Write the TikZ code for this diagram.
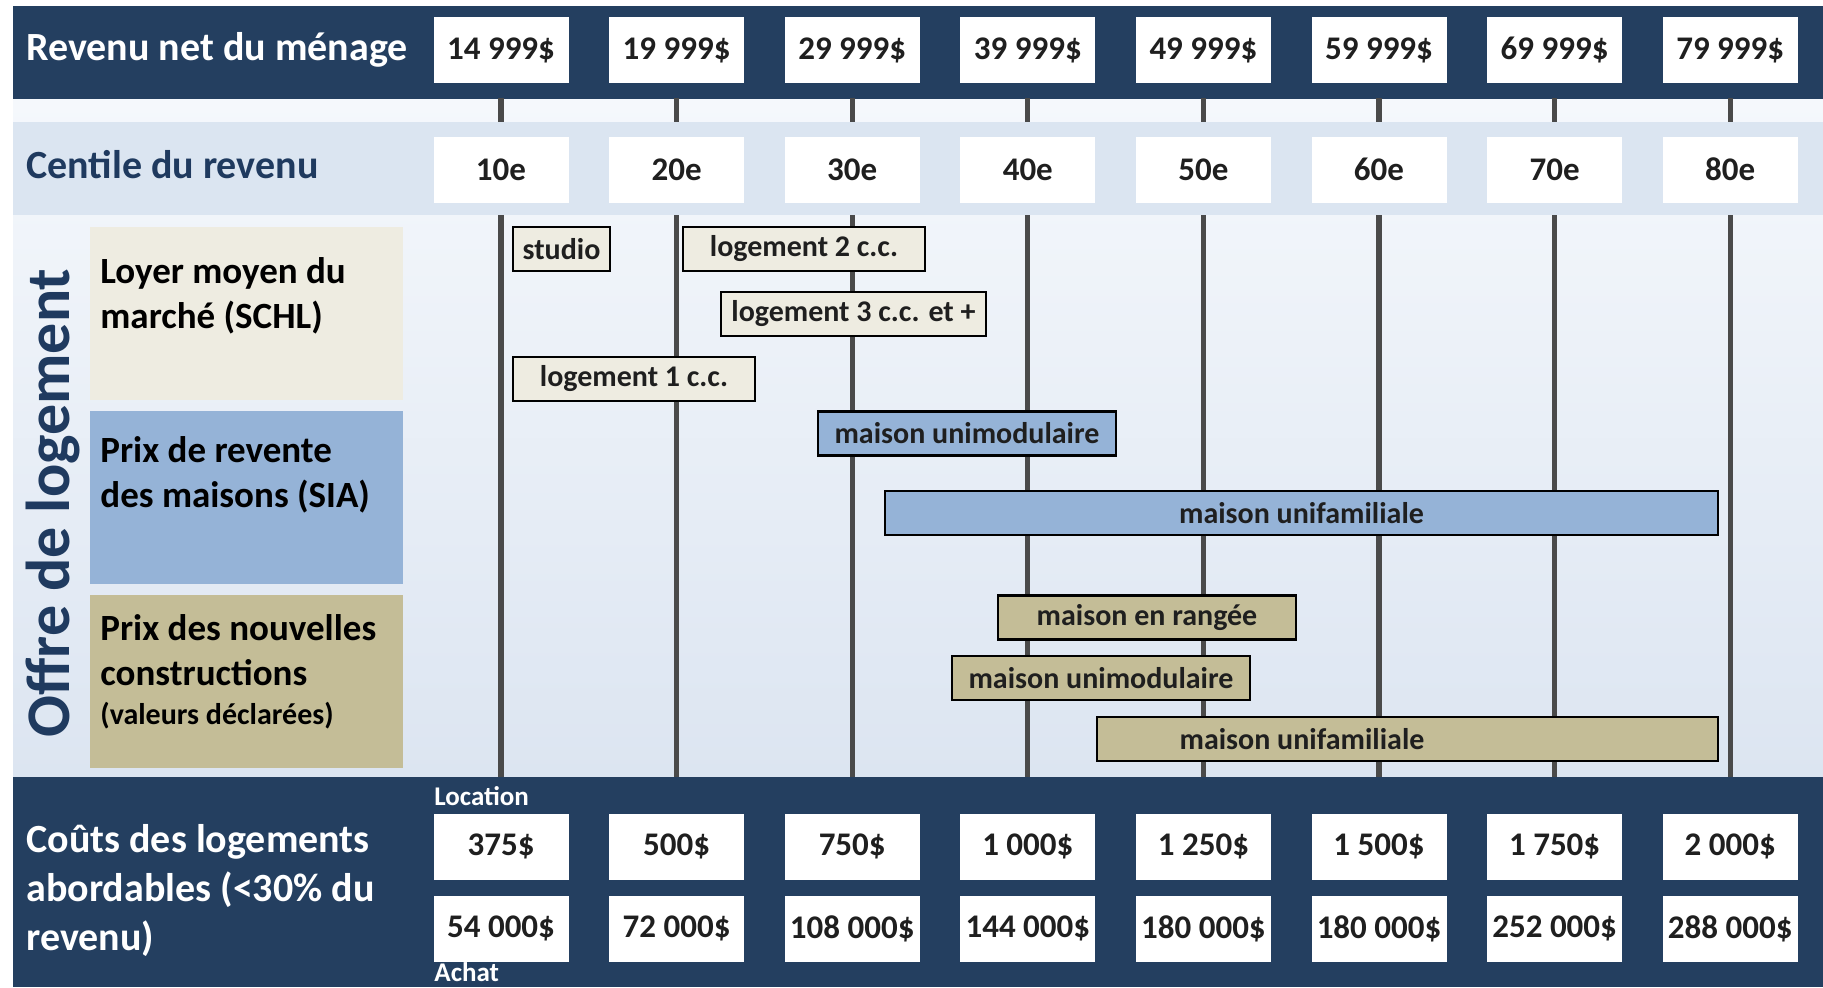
\documentclass[tikz,border=0pt]{standalone}
\usepackage{fontspec}
\setmainfont{Carlito}
\usetikzlibrary{positioning}
\definecolor{navy}{HTML}{243F60}
\definecolor{bandblue}{HTML}{DBE5F1}
\definecolor{areatop}{HTML}{F5F8FC}
\definecolor{areabottom}{HTML}{DCE5F1}
\definecolor{rentfill}{HTML}{EEECE1}
\definecolor{resalefill}{HTML}{95B3D7}
\definecolor{newfill}{HTML}{C4BD97}
\definecolor{titleblue}{HTML}{1F3A5F}
\definecolor{linegray}{HTML}{4A4A4A}

\begin{document}
\begin{tikzpicture}[x=0.5pt,y=-0.5pt,font=\bfseries,valbox/.style={fill=white,minimum width=67.5pt,minimum height=33pt,inner sep=0pt,text=black!88,font=\bfseries\fontsize{16.5}{18}\selectfont},bandtext/.style={anchor=west,align=left,inner sep=0pt,font=\bfseries\fontsize{20}{24.5}\selectfont},catbox/.style={anchor=north west,minimum width=156.5pt,minimum height=86.5pt,inner sep=0pt},cattext/.style={anchor=north west,align=left,inner sep=0pt,font=\bfseries\fontsize{18.5}{22.5}\selectfont},barlabel/.style={text=black!88,font=\bfseries\fontsize{15}{18}\selectfont},offerbar/.style={barlabel,draw=black,line width=1.1pt,minimum height=22pt,inner sep=0pt},centileline/.style={linegray,line width=2.6pt,shorten <=7.5pt},smalltext/.style={anchor=west,inner sep=0pt,text=white,font=\bfseries\fontsize{13.5}{16}\selectfont}]
\useasboundingbox (0,0) rectangle (1823,987);
\shade[top color=areatop,bottom color=areabottom] (13,99) rectangle (1823,777);
\fill[navy] (13,6) rectangle (1823,99);
\node[bandtext,text=white] (inclabel) at (26,50){Revenu net du ménage};
\foreach \v [count=\i] in {14 999\$,19 999\$,29 999\$,39 999\$,49 999\$,59 999\$,69 999\$,79 999\$}{
  \node[valbox] (inc\i) at ({501+175.6*(\i-1)},50){\v};
  \coordinate (base\i) at ({501+175.6*(\i-1)},777);
  \draw[centileline] (inc\i) -- (base\i);}
\fill[bandblue] (13,122) rectangle (1823,215);
\node[bandtext,text=titleblue] (pclabel) at (26,165){Centile du revenu};
\foreach \p [count=\i] in {10,20,...,80} \node[valbox] (pc\i) at ({501+175.6*(\i-1)},169.5){\p e};
\node[rotate=90,text=titleblue,font=\bfseries\fontsize{31}{36}\selectfont] (offer) at (53,503){Offre de logement};
\node[catbox,fill=rentfill] (rent) at (90,227){};
\node[catbox,fill=resalefill] (resale) at (90,411){};
\node[catbox,fill=newfill] (new) at (90,595){};
\node[cattext] at ([xshift=5pt,yshift=-15pt]rent.north west){Loyer moyen du\\marché (SCHL)};
\node[cattext] at ([xshift=5pt,yshift=-12.5pt]resale.north west){Prix de revente\\des maisons (SIA)};
\node[cattext] at ([xshift=5pt,yshift=-9.5pt]new.north west){Prix des nouvelles\\constructions\\[-3pt]{\fontsize{15}{18}\selectfont(valeurs déclarées)}};
\node[offerbar,fill=rentfill,minimum width=48.5pt] (studio) at (561.5,249){studio};
\node[offerbar,fill=rentfill,minimum width=121pt] (rent2) at (804,249){logement 2 c.c.};
\node[offerbar,fill=rentfill,minimum width=132.5pt] (rent3) at (853.5,314){logement 3 c.c. et +};
\node[offerbar,fill=rentfill,minimum width=121pt] (rent1) at (634,379){logement 1 c.c.};
\node[offerbar,fill=resalefill,minimum width=149pt] (resalemod) at (967,433.5){maison unimodulaire};
\node[offerbar,fill=resalefill,minimum width=416.5pt] (resalesfd) at (1301.5,513){maison unifamiliale};
\node[offerbar,fill=newfill,minimum width=149pt] (newrow) at (1147,617.5){maison en rangée};
\node[offerbar,fill=newfill,minimum width=149pt] (newmod) at (1101,678){maison unimodulaire};
\node[offerbar,fill=newfill,minimum width=310.5pt,label={[barlabel,xshift=-52.75pt]center:maison unifamiliale}] (newsfd) at (1407.5,739){};
\fill[navy] (13,777) rectangle (1823,987);
\node[bandtext,text=white] (costlabel) at (26,890){Coûts des logements\\abordables (<30\% du\\revenu)};
\node[smalltext] (loclabel) at (434,796){Location};
\foreach \v [count=\i] in {375\$,500\$,750\$,1 000\$,1 250\$,1 500\$,1 750\$,2 000\$} \node[valbox] (loc\i) at ({501+175.6*(\i-1)},846.5){\v};
\foreach \v [count=\i] in {54 000\$,72 000\$,108 000\$,144 000\$,180 000\$,180 000\$,252 000\$,288 000\$} \node[valbox] (buy\i) at ({501+175.6*(\i-1)},928.5){\v};
\node[smalltext] (buylabel) at (434,972){Achat};
\end{tikzpicture}
\end{document}
